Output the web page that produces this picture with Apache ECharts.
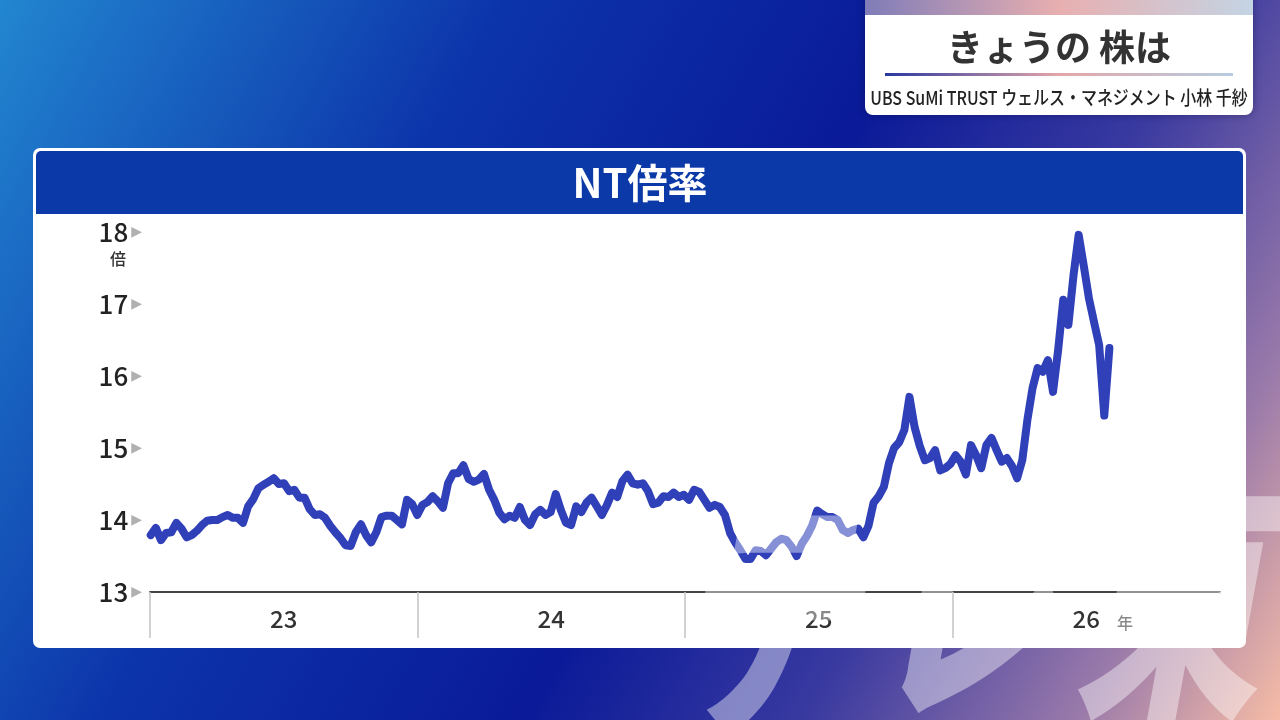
<!DOCTYPE html>
<html><head><meta charset="utf-8">
<script src="https://cdn.jsdelivr.net/npm/echarts@6/dist/echarts.min.js"></script>
<style>html,body{margin:0;padding:0;width:1280px;height:720px;overflow:hidden;background:#0a1a98}#c{width:1280px;height:720px}</style>
</head><body><div id="c"></div>
<script>
// ---- data ----
const yearLabels = ['23', '24', '25', '26'];
const startDate = '2023-01-02';   // first weekly observation
const stepDays = 7;
const ntRatio = [
  13.79,13.89,13.72,13.82,13.83,13.96,13.88,13.76,13.79,13.85,
  13.93,13.99,14.00,14.00,14.04,14.07,14.03,14.03,13.96,14.19,
  14.29,14.44,14.49,14.53,14.58,14.50,14.51,14.40,14.42,14.31,
  14.31,14.15,14.07,14.08,14.03,13.92,13.83,13.75,13.65,13.64,
  13.83,13.94,13.79,13.69,13.83,14.04,14.06,14.06,14.00,13.94,
  14.28,14.22,14.07,14.21,14.25,14.33,14.26,14.17,14.51,14.65,
  14.65,14.76,14.57,14.53,14.56,14.64,14.42,14.28,14.10,14.01,
  14.06,14.03,14.18,14.00,13.93,14.08,14.14,14.07,14.11,14.36,
  14.14,13.96,13.93,14.19,14.11,14.24,14.31,14.19,14.07,14.21,
  14.38,14.32,14.54,14.63,14.51,14.49,14.51,14.40,14.22,14.24,
  14.33,14.32,14.38,14.32,14.35,14.28,14.42,14.39,14.28,14.17,
  14.21,14.18,14.07,13.82,13.69,13.58,13.46,13.46,13.58,13.57,
  13.51,13.60,13.69,13.74,13.72,13.63,13.50,13.67,13.78,13.92,
  14.13,14.08,14.04,14.04,14.00,13.86,13.82,13.86,13.88,13.76,
  13.92,14.24,14.33,14.46,14.79,15.00,15.08,15.25,15.71,15.29,
  15.03,14.83,14.86,14.97,14.69,14.72,14.78,14.90,14.81,14.63,
  15.04,14.90,14.72,15.04,15.14,14.97,14.81,14.86,14.75,14.58,
  14.83,15.39,15.83,16.11,16.06,16.22,15.78,16.36,17.06,16.71,
  17.40,17.96,17.53,17.08,16.75,16.43,15.45,16.39
];
const yMin = 13, yMax = 18, yStep = 1;
const chartTitle = 'NT倍率';
const boxTitle = 'きょうの 株は';
const boxSub = 'UBS SuMi TRUST ウェルス・マネジメント 小林 千紗';
const yUnit = '倍';
const xUnit = '年';
const watermarkChars = ['テ', 'レ', '東'];

// ---- build ----
const t0 = new Date(startDate + 'T00:00:00').getTime();
const seriesData = ntRatio.map((v, i) => [t0 + i * stepDays * 86400000, v]);
const F = '"Noto Sans CJK JP","Noto Sans",sans-serif';
const G = echarts.graphic;
const wmPos = [[668, 488], [866, 470], [1072, 470]];
const watermark = watermarkChars.map((ch, i) => ({
  type: 'text', z: 50, x: wmPos[i][0], y: wmPos[i][1], scaleX: 0.72,
  style: {text: ch, align: 'left', verticalAlign: 'top',
    font: 'italic 900 260px ' + F, fill: 'rgba(255,255,255,0.42)'}
}));

const chart = echarts.init(document.getElementById('c'), null, {renderer: 'canvas'});
chart.setOption({
  animation: false,
  grid: {left: 150, right: 60, top: 232, bottom: 128},
  graphic: [
    {type: 'rect', z: 0, shape: {x: 0, y: 0, width: 1280, height: 720},
      style: {fill: new G.LinearGradient(0, 0, 1, 1, [
        {offset: 0, color: '#2286d0'},
        {offset: 0.3, color: '#0c34aa'},
        {offset: 0.55, color: '#0a1a98'},
        {offset: 0.72, color: '#3a3aa0'},
        {offset: 0.88, color: '#9a7aaa'},
        {offset: 1, color: '#f6bca6'}
      ])}},
    // title box
    {type: 'rect', z: 1, shape: {x: 865, y: -8, width: 388, height: 123, r: 8},
      style: {fill: '#ffffff', shadowBlur: 8, shadowColor: 'rgba(0,0,40,0.35)'}},
    {type: 'rect', z: 2, shape: {x: 865, y: 0, width: 388, height: 15},
      style: {fill: new G.LinearGradient(0, 0, 1, 0, [
        {offset: 0, color: '#7f7cb8'},
        {offset: 0.5, color: '#e8afb0'},
        {offset: 1, color: '#c4d4e4'}
      ])}},
    {type: 'text', z: 3, x: 1059, y: 47,
      style: {text: boxTitle, align: 'center', verticalAlign: 'middle',
        font: 'bold 36px ' + F, fill: '#333333'}},
    {type: 'rect', z: 3, shape: {x: 885, y: 73, width: 348, height: 3},
      style: {fill: new G.LinearGradient(0, 0, 1, 0, [
        {offset: 0, color: '#2a38a0'},
        {offset: 0.5, color: '#e4a6a8'},
        {offset: 1, color: '#b6cce0'}
      ])}},
    {type: 'text', z: 3, x: 1059, y: 98, scaleX: 0.84,
      style: {text: boxSub, align: 'center', verticalAlign: 'middle',
        font: '500 19px ' + F, fill: '#222222'}},
    // chart panel
    {type: 'rect', z: 1, shape: {x: 33, y: 148, width: 1213, height: 500, r: 7},
      style: {fill: '#ffffff'}},
    {type: 'rect', z: 2, shape: {x: 36, y: 151, width: 1207, height: 63, r: [5, 5, 0, 0]},
      style: {fill: '#0b3aa8'}},
    {type: 'text', z: 3, x: 640, y: 183,
      style: {text: chartTitle, align: 'center', verticalAlign: 'middle',
        font: 'bold 40px ' + F, fill: '#ffffff'}},
    {type: 'text', z: 12, x: 118, y: 259,
      style: {text: yUnit, align: 'center', verticalAlign: 'middle',
        font: '500 16px ' + F, fill: '#333333'}},
    {type: 'text', z: 12, x: 1125, y: 623,
      style: {text: xUnit, align: 'center', verticalAlign: 'middle',
        font: '500 16px ' + F, fill: '#333333'}},
    // hide the closing boundary tick at the right end of the axis
    {type: 'rect', z: 20, shape: {x: 1214, y: 594, width: 10, height: 50},
      style: {fill: '#ffffff'}}
  ].concat(watermark),
  xAxis: [
    {type: 'category', data: yearLabels, boundaryGap: true, z: 10,
      axisLine: {show: true, lineStyle: {color: '#444444', width: 2}},
      axisTick: {show: true, length: 46, lineStyle: {color: '#c4c4c4', width: 1.5}},
      axisLabel: {margin: 15, fontSize: 24, color: '#333333', fontFamily: F, fontWeight: 500},
      splitLine: {show: false}},
    {type: 'time', min: '2023-01-01', max: '2027-01-01', show: false}
  ],
  yAxis: {type: 'value', min: yMin, max: yMax, interval: yStep, z: 10,
    axisLine: {show: false}, axisTick: {show: false}, splitLine: {show: false},
    axisLabel: {margin: 8, formatter: v => '{n|' + v + '}{t|▶}',
      rich: {
        n: {fontSize: 26, color: '#222222', fontFamily: F, fontWeight: 500, padding: [0, 3, 0, 0]},
        t: {fontSize: 14, color: '#b0b0b0', fontFamily: '"DejaVu Sans"'}
      }}},
  series: [{
    type: 'line', xAxisIndex: 1, data: seriesData, z: 10,
    showSymbol: false, symbol: 'none',
    lineStyle: {width: 8, color: '#3040b8', cap: 'round', join: 'round'}
  }]
});
</script></body></html>
